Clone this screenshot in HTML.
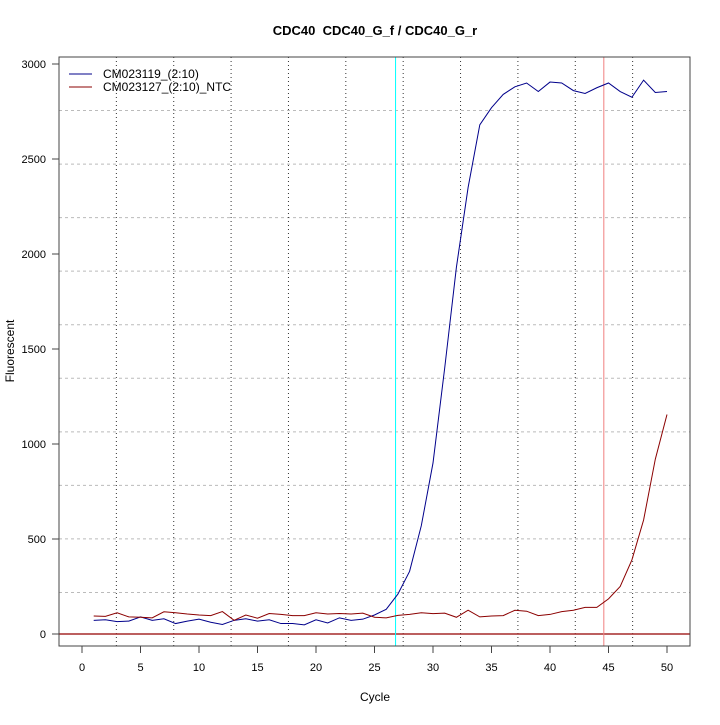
<!DOCTYPE html><html><head><style>body{margin:0;background:#fff}</style></head><body>
<svg width="720" height="720" xmlns="http://www.w3.org/2000/svg" font-family="Liberation Sans, sans-serif">
<rect width="720" height="720" fill="#fff"/>
<g id="grid"></g>
<g id="data"></g>
<rect x="59" y="57" width="631" height="589" fill="none" stroke="#444" stroke-width="1"/>
<text x="375" y="35" font-size="13" font-weight="bold" text-anchor="middle">CDC40&#160; CDC40_G_f / CDC40_G_r</text>
<text x="375" y="701" font-size="12" text-anchor="middle">Cycle</text>
<text transform="translate(14,351) rotate(-90)" font-size="12" text-anchor="middle">Fluorescent</text>
<line x1="69" y1="74" x2="92" y2="74" stroke="#00008b"/>
<line x1="69" y1="87" x2="92" y2="87" stroke="#8b0000"/>
<text x="103" y="78" font-size="12">CM023119_(2:10)</text>
<text x="103" y="91" font-size="12">CM023127_(2:10)_NTC</text>
<g id="ax" font-size="11"></g>
</svg>
<script>
const X=c=>82+c*11.7, Y=v=>634-v*0.19;
let g='';
for(let k=1;k<11;k++){let x=59+k*631/11;g+=`<line x1="${x}" y1="57" x2="${x}" y2="646" stroke="#333" stroke-dasharray="1,3"/>`;
let y=57+k*589/11;g+=`<line x1="59" y1="${y}" x2="690" y2="${y}" stroke="#bbb" stroke-dasharray="3,3"/>`;}
document.getElementById('grid').innerHTML=g;
const b=[72,75,65,68,90,72,80,55,68,78,62,50,72,80,68,75,55,55,48,75,58,85,72,78,100,130,210,330,570,900,1400,1930,2350,2680,2770,2840,2880,2900,2855,2905,2900,2860,2845,2875,2900,2855,2825,2915,2850,2855];
const r=[95,93,112,90,88,85,117,112,105,100,97,118,72,100,83,108,103,97,97,112,105,108,105,110,88,85,98,103,112,107,110,88,125,90,95,97,125,120,97,103,118,125,140,140,185,250,390,600,920,1155];
const p=a=>a.map((v,i)=>X(i+1)+','+Y(v)).join(' ');
let d=`<line x1="59" y1="634" x2="690" y2="634" stroke="#a52a2a" stroke-width="1.5"/>
<line x1="${X(26.8)}" y1="57" x2="${X(26.8)}" y2="646" stroke="#00ffff"/>
<line x1="${X(44.6)}" y1="57" x2="${X(44.6)}" y2="646" stroke="#f08080"/>
<polyline points="${p(b)}" fill="none" stroke="#00008b"/>
<polyline points="${p(r)}" fill="none" stroke="#8b0000"/>`;
document.getElementById('data').innerHTML=d;
let a='';
for(let c=0;c<=50;c+=5){a+=`<line x1="${X(c)}" y1="646" x2="${X(c)}" y2="653" stroke="#444"/><text x="${X(c)}" y="671" text-anchor="middle">${c}</text>`;}
for(let v=0;v<=3000;v+=500){a+=`<line x1="52" y1="${Y(v)}" x2="59" y2="${Y(v)}" stroke="#444"/><text x="46" y="${Y(v)+4}" text-anchor="end">${v}</text>`;}
document.getElementById('ax').innerHTML=a;
</script>
</body></html>
